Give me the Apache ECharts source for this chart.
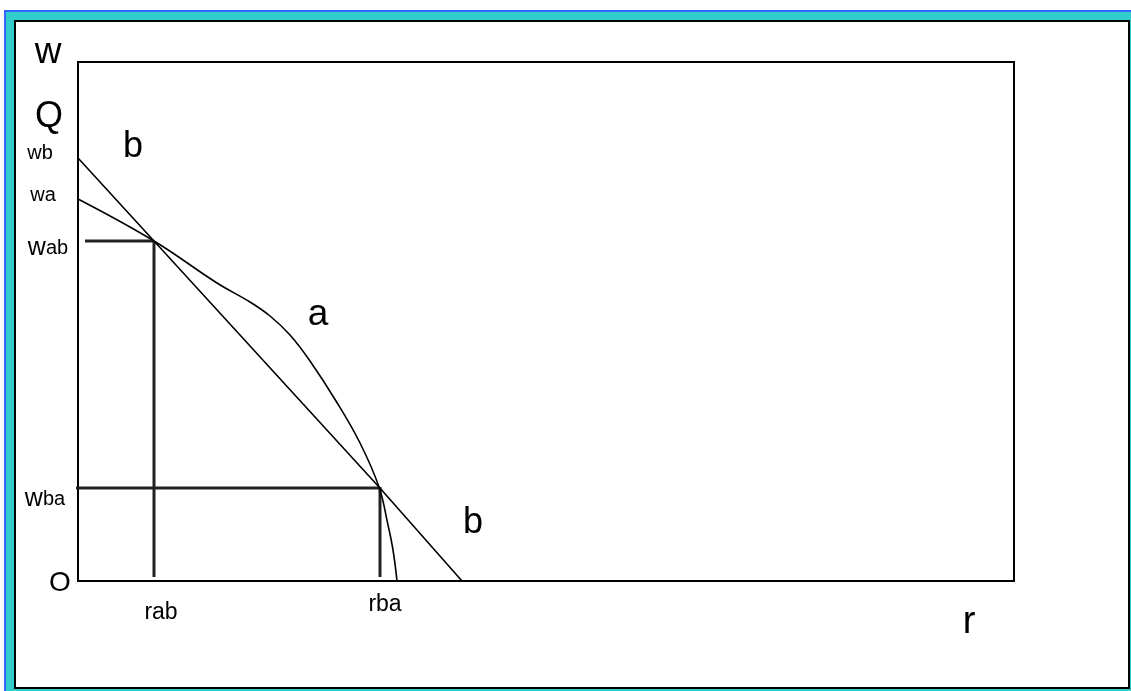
<!DOCTYPE html>
<html>
<head>
<meta charset="utf-8">
<script src="https://cdn.jsdelivr.net/npm/echarts@6/dist/echarts.min.js"></script>
<style>
  html, body { margin: 0; padding: 0; width: 1131px; height: 691px; overflow: hidden; background: #fff; }
  .band { position: absolute; left: 4px; top: 10px; right: 0; bottom: 0; background: #33cccc; border-left: 2px solid #3366ff; border-top: 2px solid #3366ff; }
  .paper { position: absolute; left: 14px; top: 20px; width: 1112px; height: 665px; background: #fff; border: 2px solid #000; }
  #chart { position: absolute; left: 0; top: 0; width: 1131px; height: 691px; }
</style>
</head>
<body>
<div class="band"></div>
<div class="paper"></div>
<div id="chart"></div>
<script>
// 坐标范围 (r, w)
var rMax = 936;
var wMax = 519;

// 直线 b
var lineB = [[0, 423], [76, 340], [301, 94], [384, 0]];
// 曲线 a
var curveA = [
  [0, 382], [76, 340], [139, 298], [172, 279], [192, 265], [212, 246],
  [232, 220], [258, 180], [282, 138], [301, 94], [310, 56], [315, 31], [319, 0]
];
// 交点辅助线
var guideWab = [[7, 340], [76, 340]];
var guideRab = [[76, 340], [76, 4]];
var guideWba = [[-2, 93], [302, 93]];
var guideRba = [[302, 94], [302, 4]];

var chart = echarts.init(document.getElementById("chart"));

function txt(x, y, s, size) {
  return {
    type: "text", x: x, y: y,
    style: {
      text: s, fill: "#000", font: size + "px 'Liberation Sans', Arial, sans-serif",
      textAlign: "center", textVerticalAlign: "middle"
    }
  };
}

function richTxt(x, y, big, small) {
  return {
    type: "text", x: x, y: y,
    style: {
      text: "{w|" + big + "}{s|" + small + "}",
      textAlign: "center", textVerticalAlign: "middle",
      rich: {
        w: { fontSize: 25, fontFamily: "'Liberation Sans', Arial", fill: "#000" },
        s: { fontSize: 20, fontFamily: "'Liberation Sans', Arial", fill: "#000" }
      }
    }
  };
}

function guide(data) {
  return {
    type: "line", data: data, symbol: "none", silent: true, clip: false,
    lineStyle: { color: "#222", width: 3 }, z: 3
  };
}

chart.setOption({
  animation: false,
  backgroundColor: "transparent",
  grid: {
    left: 78, top: 62, width: 936, height: 519,
    show: true, borderColor: "#000", borderWidth: 2, backgroundColor: "#fff"
  },
  xAxis: {
    type: "value", min: 0, max: rMax,
    axisLine: { show: false }, axisTick: { show: false },
    axisLabel: { show: false }, splitLine: { show: false }
  },
  yAxis: {
    type: "value", min: 0, max: wMax,
    axisLine: { show: false }, axisTick: { show: false },
    axisLabel: { show: false }, splitLine: { show: false }
  },
  series: [
    {
      name: "b", type: "line", data: lineB, symbol: "none",
      lineStyle: { color: "#000", width: 1.6 }, z: 4
    },
    {
      name: "a", type: "line", data: curveA, symbol: "none", smooth: 0.4,
      lineStyle: { color: "#000", width: 1.6 }, z: 4
    },
    guide(guideWab),
    guide(guideRab),
    guide(guideWba),
    guide(guideRba)
  ],
  graphic: [
    txt(48, 53, "w", 37),
    txt(49, 117, "Q", 36),
    txt(133, 147, "b", 36),
    txt(40, 153, "wb", 20),
    txt(43, 195, "wa", 20),
    richTxt(48, 248, "w", "ab"),
    richTxt(45, 499, "w", "ba"),
    txt(318, 315, "a", 37),
    txt(473, 523, "b", 36),
    txt(60, 583, "O", 28),
    txt(161, 613, "rab", 23),
    txt(385, 605, "rba", 23),
    txt(969, 623, "r", 38)
  ]
});
</script>
</body>
</html>
